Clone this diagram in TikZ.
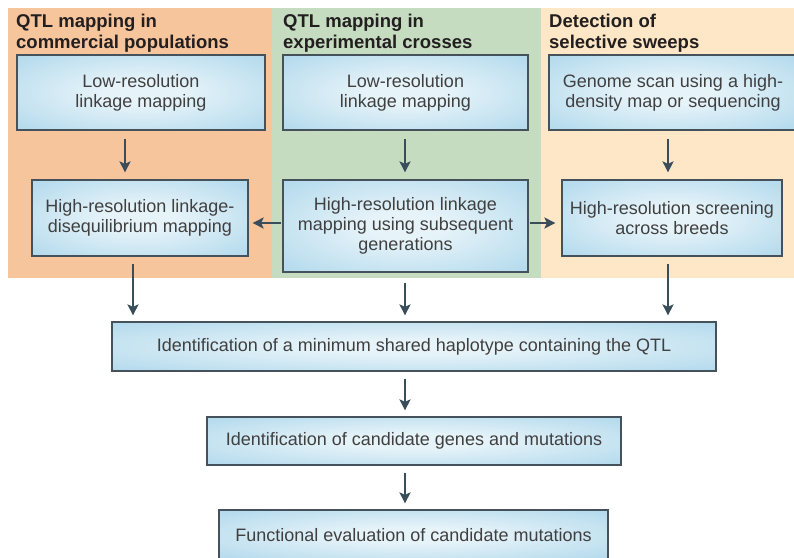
\documentclass[tikz,border=0pt]{standalone}
\usepackage{fontspec}
\setmainfont{Liberation Sans}
\usetikzlibrary{arrows.meta}
\definecolor{panelO}{HTML}{F6C59C}
\definecolor{panelG}{HTML}{C6DCC1}
\definecolor{panelY}{HTML}{FDE7C6}
\definecolor{bxin}{HTML}{E6F3F9}
\definecolor{bxout}{HTML}{A9D5EA}
\definecolor{bxline}{HTML}{46525B}
\definecolor{arrcol}{HTML}{3A4D5A}
\definecolor{txtcol}{HTML}{404040}
\definecolor{ttlcol}{HTML}{231F20}
\pgfdeclareradialshading{boxshade}{\pgfpoint{0bp}{0bp}}{color(0bp)=(bxin); color(8bp)=(bxin); color(40bp)=(bxout); color(50bp)=(bxout)}
\tikzset{
  stepbox/.style={draw=bxline, line width=1.2pt, shading=boxshade, inner sep=0pt,
    align=center, text=txtcol, font=\fontsize{18}{20}\selectfont},
  ttl/.style={anchor=north west, inner sep=0pt, align=left, text=ttlcol,
    font=\fontsize{18.5}{21}\selectfont\bfseries},
  arr/.style={draw=arrcol, line width=2.2pt, -{Stealth[length=11pt,width=11pt,inset=2.5pt]}}
}
\begin{document}
\begin{tikzpicture}[x=1pt,y=-1pt]
\useasboundingbox (0,0) rectangle (794,557);
\fill[white] (0,0) rectangle (794,557);
% panels
\fill[panelO] (8,8) rectangle (272,278);
\fill[panelG] (272,8) rectangle (541,278);
\fill[panelY] (541,8) rectangle (794,278);
% titles
\node[ttl] (t1) at (16,14) {QTL mapping in\\commercial populations};
\node[ttl] (t2) at (283,14) {QTL mapping in\\experimental crosses};
\node[ttl] (t3) at (549,14) {Detection of\\selective sweeps};
% boxes
\node[stepbox, minimum width=248, minimum height=75] (L1) at (141,92.5) {Low-resolution\\linkage mapping};
\node[stepbox, minimum width=245, minimum height=75] (M1) at (405.5,92.5) {Low-resolution\\linkage mapping};
\node[stepbox, minimum width=248, minimum height=75] (R1) at (673,92.5) {Genome scan using a high-\\density map or sequencing};
\node[stepbox, minimum width=216, minimum height=76] (L2) at (140,218) {High-resolution linkage-\\disequilibrium mapping};
\node[stepbox, minimum width=245, minimum height=92] (M2) at (405.5,226) {High-resolution linkage\\mapping using subsequent\\generations};
\node[stepbox, minimum width=220, minimum height=76] (R2) at (672,218) {High-resolution screening\\across breeds};
\node[stepbox, minimum width=604, minimum height=49] (B1) at (414,346.5) {Identification of a minimum shared haplotype containing the QTL};
\node[stepbox, minimum width=414, minimum height=48] (B2) at (414,441) {Identification of candidate genes and mutations};
\node[stepbox, minimum width=389, minimum height=50] (B3) at (413.5,535) {Functional evaluation of candidate mutations};
% arrow x positions
\coordinate (xa) at (125,0);
\coordinate (xb) at (133,0);
\coordinate (xm) at (405,0);
\coordinate (xr) at (668,0);
\coordinate (yh) at (0,223);
% arrows
\draw[arr, shorten <=8pt, shorten >=7pt] (L1.south -| xa) -- (L2.north -| xa);
\draw[arr, shorten <=8pt, shorten >=7pt] (M1.south -| xm) -- (M2.north -| xm);
\draw[arr, shorten <=8pt, shorten >=7pt] (R1.south -| xr) -- (R2.north -| xr);
\draw[arr, shorten <=1pt, shorten >=4pt] (M2.west |- yh) -- (L2.east |- yh);
\draw[arr, shorten <=1pt, shorten >=6pt] (M2.east |- yh) -- (R2.west |- yh);
\draw[arr, shorten <=7pt, shorten >=6pt] (L2.south -| xb) -- (B1.north -| xb);
\draw[arr, shorten <=10pt, shorten >=6pt] (M2.south -| xm) -- (B1.north -| xm);
\draw[arr, shorten <=7pt, shorten >=6pt] (R2.south -| xr) -- (B1.north -| xr);
\draw[arr, shorten <=7pt, shorten >=6pt] (B1.south -| xm) -- (B2.north -| xm);
\draw[arr, shorten <=7pt, shorten >=6pt] (B2.south -| xm) -- (B3.north -| xm);
\end{tikzpicture}
\end{document}
